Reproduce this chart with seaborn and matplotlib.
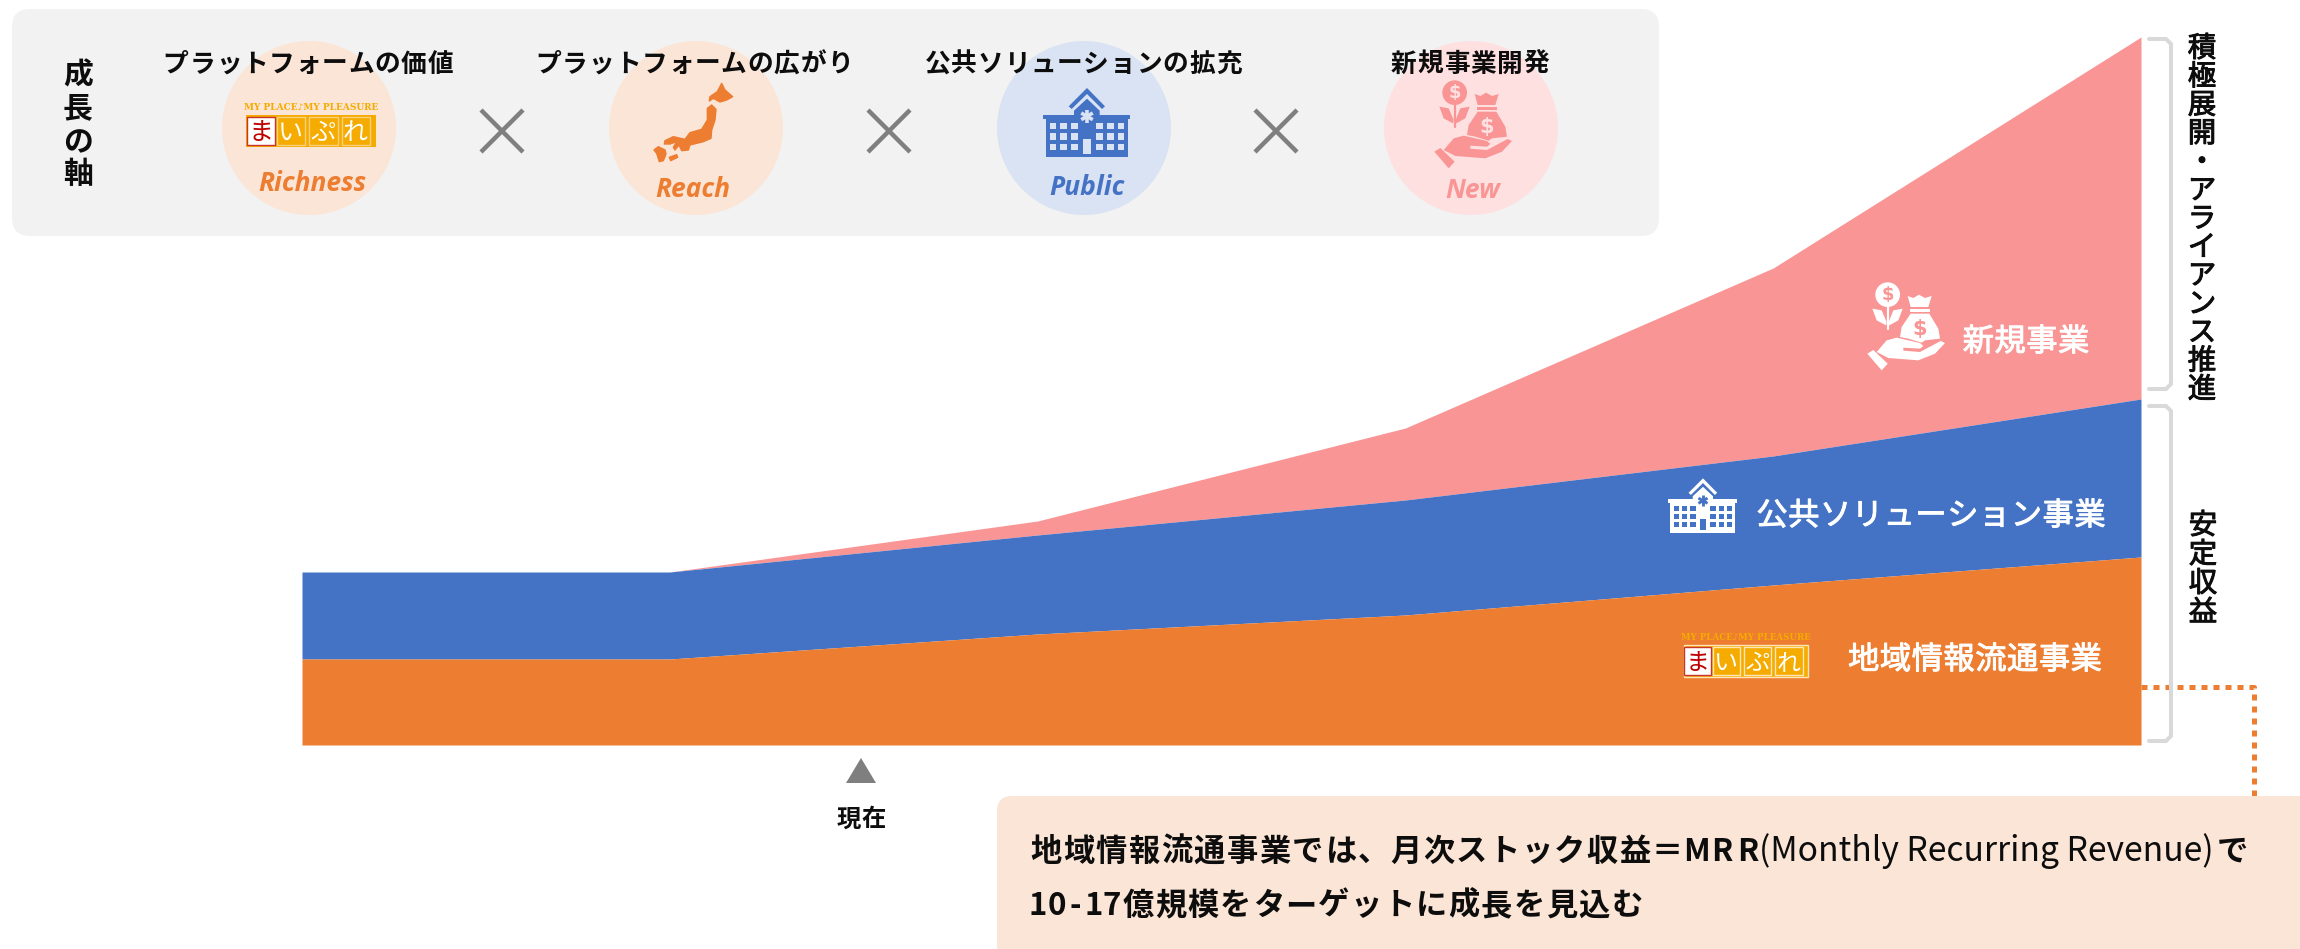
import numpy as np
import pandas as pd
import seaborn as sns
import matplotlib
matplotlib.use("Agg")
import matplotlib.pyplot as plt
import matplotlib.patheffects as pe
from matplotlib.patches import Circle, FancyBboxPatch, Polygon, Rectangle

# Band heights (no axis in the original, so arbitrary units)
steps = [0, 1, 2, 3, 4, 5]
local_info = [86, 86, 111, 130, 160, 188]
public_sol = [87, 87, 99, 115, 129, 158]
new_biz = [0, 0, 14, 72, 188, 362]

segment_names = ["地域情報流通事業", "公共ソリューション事業", "新規事業"]
axis_headers = ["プラットフォームの価値", "プラットフォームの広がり", "公共ソリューションの拡充", "新規事業開発"]
axis_words = ["Richness", "Reach", "Public", "New"]

ORANGE = "#ED7D31"
BLUE = "#4472C4"
PINK = "#FA9595"
INK = "#0D0D0D"
JP = ["Noto Sans CJK JP", "DejaVu Sans"]

sns.set_theme(style="white")
plt.rcParams["font.family"] = JP

W, H = 2300, 949
fig = plt.figure(figsize=(W / 100, H / 100), dpi=100, facecolor="white")

# stacked area, top edges through seaborn
ax = fig.add_axes([302 / W, (H - 745) / H, (2141 - 302) / W, 745 / H])
tops1 = np.array(local_info)
tops2 = tops1 + np.array(public_sol)
tops3 = tops2 + np.array(new_biz)
df = pd.DataFrame({
    "step": steps * 3,
    "top": list(tops1) + list(tops2) + list(tops3),
    "segment": sum([[n] * len(steps) for n in segment_names], []),
})
palette = dict(zip(segment_names, [ORANGE, BLUE, PINK]))
sns.lineplot(data=df, x="step", y="top", hue="segment", palette=palette, legend=False, linewidth=0, ax=ax)
ax.fill_between(steps, tops2, tops3, color=PINK, lw=0)
ax.fill_between(steps, tops1, tops2, color=BLUE, lw=0)
ax.fill_between(steps, 0, tops1, color=ORANGE, lw=0)
ax.set_xlim(0, 5)
ax.set_ylim(0, 745)
ax.axis("off")

# overlay in picture pixels for everything that is not data
ov = fig.add_axes([0, 0, 1, 1], zorder=5)
ov.set_xlim(0, W)
ov.set_ylim(H, 0)
ov.axis("off")
ov.patch.set_alpha(0)


def heavier(t, color):
    # the original weight sits between regular and bold
    t.set_path_effects([pe.withStroke(linewidth=0.7, foreground=color)])


def spaced(cx, cy, s, pitch, size, weight="bold", color=INK, medium=False):
    # one glyph at a time so the tracking can follow the original
    x0 = cx - pitch * (len(s) - 1) / 2
    base = cy + size * 100 / 72 * 0.38
    for i, ch in enumerate(s):
        t = ov.text(x0 + i * pitch, base, ch, ha="center", va="baseline", fontsize=size,
                    fontweight=weight, color=color, family=JP)
        if medium:
            heavier(t, color)


def vertical(cx, centers, s, size, weight="regular", medium=True):
    base_off = size * 100 / 72 * 0.38
    for y, ch in zip(centers, s):
        t = ov.text(cx, y + base_off, ch, ha="center", va="baseline", fontsize=size,
                    fontweight=weight, color=INK, family=JP)
        if medium:
            heavier(t, INK)


def logo(cx, cy, scale=1.0, outline="#FAD27F", tag_edge=None):
    yellow = "#F5AB00"
    ov.add_patch(Rectangle((cx - 65 * scale, cy - 16), 130 * scale, 32, fc=yellow, ec=outline if tag_edge else "none", lw=1))
    ov.text(cx, cy - 24, "MY PLACE♪MY PLEASURE", ha="center", va="center", fontsize=6.5 * scale,
            fontweight="bold", color=yellow, family=["DejaVu Serif", "DejaVu Sans"])
    cells = [-50.5, -20.5, 12, 44.5]
    for off, ch in zip(cells, "まいぷれ"):
        first = ch == "ま"
        ov.add_patch(Rectangle((cx + (off - 14) * scale, cy - 14), 28.5 * scale, 28,
                               fc="white" if first else yellow, ec="#C8352B" if first else outline, lw=1))
        ov.text(cx + off * scale, cy + 9, ch, ha="center", va="baseline", fontsize=18 * scale,
                color="#C00000" if first else "white", family=JP)


def building(cx, cy, fg, bg, s=1.0):
    # drawn from the zoomed icon, origin at its middle
    def P(x, y):
        return (cx + (x - 172) / 3 * s, cy + (y - 145) / 3 * s)

    def box(x0, y0, x1, y1, c):
        ov.add_patch(Rectangle(P(x0, y0), (x1 - x0) / 3 * s, (y1 - y0) / 3 * s, fc=c, ec="none"))

    box(48, 130, 295, 248, fg)
    box(40, 120, 302, 132, fg)
    ov.add_patch(Polygon([P(133, 122), P(133, 108), P(172, 72), P(210, 108), P(210, 122)], fc=fg, ec="none"))
    ov.add_patch(Polygon([P(117, 95), P(172, 40), P(226, 95), P(217, 103), P(172, 58), P(126, 103)], fc=fg, ec="none"))
    for wx in [60, 92, 124, 200, 232, 264]:
        for wy in [145, 176, 207]:
            box(wx, wy, wx + 20, wy + 19, bg)
    box(160, 193, 185, 238, bg)
    for a in [90, 30, 150]:
        dx, dy = 20 * np.cos(np.radians(a)), 20 * np.sin(np.radians(a))
        x0, y0 = P(172 - dx, 125 - dy)
        x1, y1 = P(172 + dx, 125 + dy)
        ov.plot([x0, x1], [y0, y1], color=bg, lw=2.6 * s, solid_capstyle="butt")


def money(cx, cy, fg, bg):
    def P(x, y):
        return (cx + (x - 158) / 3, cy + (y - 162) / 3)

    def poly(pts, c=fg):
        ov.add_patch(Polygon([P(*p) for p in pts], fc=c, ec="none"))

    ov.add_patch(Circle(P(103, 68), 37 / 3, fc=fg, ec="none"))
    x0, y0 = P(103, 105)
    x1, y1 = P(103, 172)
    ov.plot([x0, x1], [y0, y1], color=fg, lw=1.6)
    poly([(57, 110), (85, 115), (100, 150), (98, 160), (70, 145)])
    poly([(148, 110), (120, 115), (106, 150), (108, 160), (135, 145)])
    poly([(163, 72), (180, 78), (197, 68), (215, 78), (235, 72), (225, 105), (172, 105)])
    poly([(170, 111), (230, 111), (230, 120), (170, 120)])
    poly([(172, 125), (228, 125), (255, 170), (260, 200), (215, 205), (205, 212), (165, 200), (140, 195), (145, 165)])
    poly([(70, 240), (100, 205), (130, 197), (200, 213), (210, 222), (200, 230), (150, 227), (150, 236), (200, 240),
          (262, 207), (275, 213), (245, 245), (195, 265), (105, 258)])
    poly([(42, 245), (60, 234), (103, 275), (85, 295)])
    for (px, py), fs in [((103, 68), 13), ((200, 170), 15)]:
        tx, ty = P(px, py)
        ov.text(tx, ty, "$", ha="center", va="center", fontsize=fs, fontweight="bold", color=bg, family="DejaVu Sans")


# top panel
ov.add_patch(FancyBboxPatch((27, 24), 1617, 197, boxstyle="round,pad=15,rounding_size=18", fc="#F2F2F2", ec="none"))
vertical(78, [73, 106, 140, 172], "成長の軸", 21.5, "bold", False)

circle_x = [309, 696, 1084, 1471]
circle_c = ["#FBE5D6", "#FBE5D6", "#DAE3F3", "#FFE0E1"]
for x, c in zip(circle_x, circle_c):
    ov.add_patch(Circle((x, 128), 87, fc=c, ec="none"))

head_x = [308, 694, 1083, 1470]
for x, s in zip(head_x, axis_headers):
    spaced(x, 62, s, 26.5, 18.5)

word_pos = [(312, 183), (693, 189), (1087, 187), (1473, 190)]
word_c = [ORANGE, ORANGE, BLUE, PINK]
for (x, y), s, c in zip(word_pos, axis_words, word_c):
    ov.text(x, y, s, ha="center", va="center", fontsize=19, fontweight="bold", style="italic", color=c, family="Open Sans")

for x in [502, 889, 1276]:
    ov.plot([x - 21, x + 21], [131 - 21, 131 + 21], color="#7F7F7F", lw=3.2, solid_capstyle="butt")
    ov.plot([x - 21, x + 21], [131 + 21, 131 - 21], color="#7F7F7F", lw=3.2, solid_capstyle="butt")

logo(311, 131)
japan = [
    [(275, 40), (285, 60), (308, 80), (290, 90), (270, 96), (250, 85), (238, 93), (240, 80), (262, 65)],
    [(245, 105), (258, 118), (255, 150), (245, 180), (243, 205), (220, 215), (180, 225), (175, 240), (155, 242),
     (147, 225), (135, 240), (130, 232), (140, 215), (120, 222), (103, 222), (105, 212), (130, 200), (165, 208),
     (180, 188), (215, 178), (232, 150), (232, 115)],
    [(72, 240), (85, 230), (105, 240), (108, 252), (100, 272), (88, 275), (80, 250)],
    [(118, 262), (140, 254), (143, 262), (122, 272)],
]
for part in japan:
    ov.add_patch(Polygon([(630 + px / 3, 70 + py / 3) for px, py in part], fc=ORANGE, ec=ORANGE, lw=1, joinstyle="round"))
building(1087, 123, BLUE, "#DAE3F3")
money(1473, 124, PINK, "#FFE0E1")

# labels inside the bands
money(1906, 326, "white", PINK)
building(1703, 506, "white", BLUE, 0.79)
logo(1746, 661, 0.96, outline="#FDE7B8", tag_edge=True)
spaced(2026, 339, segment_names[2], 31.8, 22.5, "regular", "white", True)
spaced(1931, 513, segment_names[1], 31.8, 22.5, "regular", "white", True)
spaced(1975, 657, segment_names[0], 31.8, 22.5, "regular", "white", True)

# brackets
for y0, y1 in [(39, 389), (406, 741)]:
    ov.plot([2149, 2166, 2171, 2171, 2166, 2149], [y0, y0, y0 + 5, y1 - 5, y1, y1], color="#D9D9D9", lw=2.9, solid_joinstyle="round")
vertical(2202, np.linspace(46, 387, 13), "積極展開・アライアンス推進", 20.5)
vertical(2203, [523, 552, 581, 610], "安定収益", 20.5)

# today marker
ov.add_patch(Polygon([(861, 758), (846, 783), (876, 783)], fc="#7F7F7F", ec="none"))
spaced(861, 817, "現在", 25, 17.5)

# callout
ov.plot([2141, 2254, 2254], [687, 687, 796], color=ORANGE, lw=3.6, dashes=(1.2, 1.2), dash_capstyle="butt", zorder=1)
ov.add_patch(FancyBboxPatch((1012, 811), 1500, 300, boxstyle="round,pad=15,rounding_size=15", fc="#FBE5D6", ec="none", zorder=2))
run1 = "地域情報流通事業では、月次ストック収益＝"
spaced(1030 + 16 + 32.7 * 19 / 2, 849, run1, 32.7, 22.5)
spaced(1722, 849, "MRR", 25.5, 22.5)
paren = ov.text(1759, 849 + 12, "(Monthly Recurring Revenue)", ha="left", va="baseline", fontsize=22, color=INK, family=JP)
# the parenthesis run has to end right before the last glyph
rend = fig.canvas.get_renderer()
paren.set_fontsize(22 * 455 / paren.get_window_extent(rend).width)
spaced(2232, 849, "で", 32.7, 22.5)
spaced(1075, 903, "10-17", 18.5, 22.5)
run2 = "億規模をターゲットに成長を見込む"
spaced(1122 + 16 + 32.6 * 15 / 2, 903, run2, 32.6, 22.5)

fig.savefig("out.png", dpi=100, facecolor="white")
